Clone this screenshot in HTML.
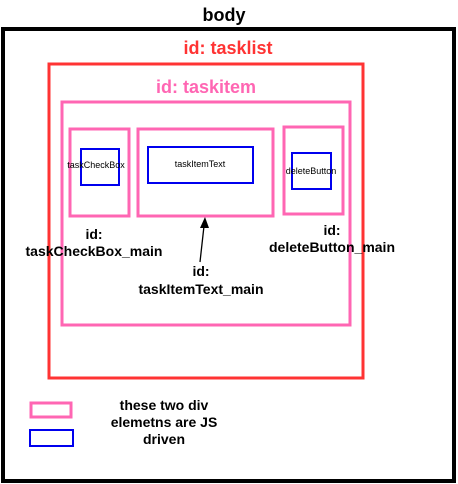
<!DOCTYPE html>
<html><head><style>body{margin:0;background:#fff}svg{display:block}text{font-family:"Liberation Sans",sans-serif;font-weight:bold}</style></head><body>
<svg width="458" height="484" viewBox="0 0 458 484">
<rect x="3" y="29" width="451" height="452" fill="none" stroke="#000" stroke-width="4"/>
<text x="224" y="21" font-size="18" text-anchor="middle">body</text>
<rect x="49" y="64" width="314" height="314" fill="none" stroke="#ff3333" stroke-width="3"/>
<text x="228" y="54" font-size="18" text-anchor="middle" fill="#ff3333">id: tasklist</text>
<rect x="62" y="102" width="288" height="223" fill="none" stroke="#ff66b3" stroke-width="3"/>
<text x="206" y="93" font-size="18" text-anchor="middle" fill="#ff66b3">id: taskitem</text>
<g fill="none" stroke="#ff66b3" stroke-width="3">
<rect x="70" y="129" width="59" height="87"/>
<rect x="138" y="129" width="135" height="87"/>
<rect x="284" y="127" width="59" height="87"/>
<rect x="31" y="403" width="40" height="14"/>
</g>
<g fill="none" stroke="#0000ee" stroke-width="2">
<rect x="81" y="149" width="38" height="36"/>
<rect x="148" y="147" width="105" height="36"/>
<rect x="292" y="153" width="39" height="36"/>
<rect x="30" y="430" width="43" height="16"/>
</g>
<g font-size="9" text-anchor="middle">
<text x="96" y="168" style="font-weight:normal">taskCheckBox</text>
<text x="200" y="167" style="font-weight:normal">taskItemText</text>
<text x="311" y="174" style="font-weight:normal">deleteButton</text>
</g>
<g font-size="14" text-anchor="middle">
<text x="94" y="239">id:</text>
<text x="94" y="256">taskCheckBox_main</text>
<text x="201" y="276">id:</text>
<text x="201" y="294">taskItemText_main</text>
<text x="332" y="235">id:</text>
<text x="332" y="252">deleteButton_main</text>
<text x="164" y="410">these two div</text>
<text x="164" y="427">elemetns are JS</text>
<text x="164" y="444">driven</text>
</g>
<line x1="200" y1="262" x2="204" y2="226" stroke="#000" stroke-width="1.3"/>
<polygon points="205,217 200,228 209,228" fill="#000"/>
</svg>
</body></html>
